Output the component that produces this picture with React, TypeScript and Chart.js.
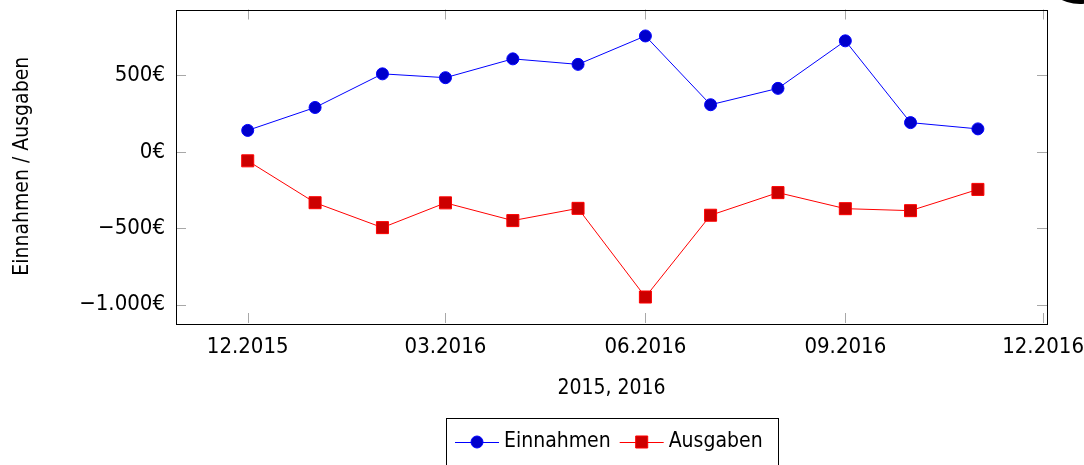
import React, { useEffect, useRef } from "react";
import { Chart, registerables } from "chart.js";

Chart.register(...registerables);

// ---- data ----
const months = [
  "2015-12", "2016-01", "2016-02", "2016-03", "2016-04", "2016-05",
  "2016-06", "2016-07", "2016-08", "2016-09", "2016-10", "2016-11",
];
const einnahmen = [140, 290, 510, 485, 608, 572, 758, 308, 415, 726, 191, 150];
const ausgaben = [-59, -333, -496, -334, -450, -370, -950, -415, -267, -372, -385, -246];
const seriesLabels = ["Einnahmen", "Ausgaben"];
const xTickMonths = ["2015-12", "2016-03", "2016-06", "2016-09", "2016-12"];
const yTickValues = [-1000, -500, 0, 500];
const xTitle = "2015, 2016";
const yTitle = "Einnahmen / Ausgaben";

const FONT = "'Liberation Sans Narrow', 'DejaVu Sans Condensed', 'Liberation Sans', sans-serif";
const FS_TICK = 22;
const FS_TEXT = 21;

const dayOf = (m: string) => {
  const [y, mo] = m.split("-").map(Number);
  return Date.UTC(y, mo - 1, 1) / 86400000;
};
const fmtMonth = (d: number) => {
  const dt = new Date(Math.round(d) * 86400000);
  return String(dt.getUTCMonth() + 1).padStart(2, "0") + "." + dt.getUTCFullYear();
};
const fmtEuro = (v: number) =>
  (v < 0 ? "\u2212" : "") + String(Math.abs(v)).replace(/\B(?=(\d{3})+(?!\d))/g, ".") + "€";

const BLUE_LINE = "#0000ff";
const BLUE_FILL = "#0000cc";
const RED_LINE = "#ff0000";
const RED_FILL = "#cc0000";

const decor = {
  id: "decor",
  beforeDatasetsDraw(chart: any) {
    const { ctx, chartArea: a, scales } = chart;
    ctx.save();
    ctx.strokeStyle = "#a8a8a8";
    ctx.lineWidth = 1;
    const L = 10;
    ctx.beginPath();
    for (const t of scales.x.ticks) {
      const px = Math.round(scales.x.getPixelForValue(t.value)) + 0.5;
      ctx.moveTo(px, a.bottom);
      ctx.lineTo(px, a.bottom - L);
      ctx.moveTo(px, a.top);
      ctx.lineTo(px, a.top + L);
    }
    for (const t of scales.y.ticks) {
      const py = Math.round(scales.y.getPixelForValue(t.value)) + 0.5;
      ctx.moveTo(a.left, py);
      ctx.lineTo(a.left + L, py);
      ctx.moveTo(a.right, py);
      ctx.lineTo(a.right - L, py);
    }
    ctx.stroke();
    ctx.restore();
  },
  afterDraw(chart: any) {
    const { ctx, chartArea: a } = chart;
    ctx.save();
    // frame
    ctx.strokeStyle = "#000";
    ctx.lineWidth = 1;
    ctx.strokeRect(Math.round(a.left) + 0.5, Math.round(a.top) + 0.5,
      Math.round(a.right - a.left), Math.round(a.bottom - a.top));

    ctx.fillStyle = "#000";
    ctx.font = `${FS_TEXT}px ${FONT}`;
    ctx.textAlign = "center";
    ctx.textBaseline = "middle";
    // x title
    const cx = (a.left + a.right) / 2;
    ctx.fillText(xTitle, cx, 389);
    // y title
    ctx.save();
    ctx.translate(23, (a.top + a.bottom) / 2);
    ctx.rotate(-Math.PI / 2);
    ctx.fillText(yTitle, 0, 0);
    ctx.restore();

    // legend
    const ds = chart.data.datasets;
    const lineLen = 44;
    const padL = 9, gapLT = 5, gapEntries = 9, padR = 15;
    const widths = ds.map((d: any) => ctx.measureText(d.label).width);
    let total = padL + padR;
    ds.forEach((_: any, i: number) => {
      total += lineLen + gapLT + widths[i] + (i < ds.length - 1 ? gapEntries : 0);
    });
    const bx = Math.round(cx - total / 2);
    const by = 418;
    ctx.strokeStyle = "#000";
    ctx.strokeRect(bx + 0.5, by + 0.5, Math.round(total), 60);
    const ly = 442;
    let x = bx + padL;
    ds.forEach((d: any, i: number) => {
      ctx.strokeStyle = d.borderColor;
      ctx.lineWidth = 1;
      ctx.beginPath();
      ctx.moveTo(x, ly + 0.5);
      ctx.lineTo(x + lineLen, ly + 0.5);
      ctx.stroke();
      const mx = x + lineLen / 2;
      ctx.fillStyle = d.pointBackgroundColor;
      ctx.strokeStyle = d.pointBorderColor;
      ctx.beginPath();
      if (d.pointStyle === "rect") {
        const s = d.pointRadius * Math.SQRT1_2;
        ctx.rect(mx - s, ly - s, 2 * s, 2 * s);
      } else {
        ctx.arc(mx, ly, d.pointRadius, 0, Math.PI * 2);
      }
      ctx.fill();
      ctx.stroke();
      ctx.fillStyle = "#000";
      ctx.textAlign = "left";
      ctx.fillText(d.label, x + lineLen + gapLT, ly);
      x += lineLen + gapLT + widths[i] + gapEntries;
    });

    // partial dark shape at the top-right corner
    ctx.fillStyle = "#000";
    ctx.beginPath();
    ctx.ellipse(1080, -22, 34, 26, 0, 0, Math.PI * 2);
    ctx.fill();
    ctx.restore();
  },
};

export default function App() {
  const ref = useRef<HTMLCanvasElement | null>(null);
  useEffect(() => {
    document.body.style.margin = "0";
    const canvas = ref.current!;
    const xs = months.map(dayOf);
    const chart = new Chart(canvas, {
      type: "line",
      data: {
        datasets: [
          {
            label: seriesLabels[0],
            data: xs.map((x, i) => ({ x, y: einnahmen[i] })),
            borderColor: BLUE_LINE,
            borderWidth: 1,
            pointStyle: "circle",
            pointRadius: 6,
            pointBorderWidth: 1,
            pointBackgroundColor: BLUE_FILL,
            pointBorderColor: BLUE_LINE,
            tension: 0,
          },
          {
            label: seriesLabels[1],
            data: xs.map((x, i) => ({ x, y: ausgaben[i] })),
            borderColor: RED_LINE,
            borderWidth: 1,
            pointStyle: "rect",
            pointRadius: 8.5,
            pointBorderWidth: 1,
            pointBackgroundColor: RED_FILL,
            pointBorderColor: RED_LINE,
            tension: 0,
          },
        ] as any,
      },
      options: {
        animation: false,
        responsive: false,
        maintainAspectRatio: false,
        layout: { padding: { left: 0, right: 37, top: 8, bottom: 0 } },
        plugins: { legend: { display: false }, tooltip: { enabled: false } },
        scales: {
          x: {
            type: "linear",
            min: dayOf(xTickMonths[0]) - 33,
            max: dayOf(xTickMonths[xTickMonths.length - 1]) + 1.8,
            afterBuildTicks: (s: any) => {
              s.ticks = xTickMonths.map((m) => ({ value: dayOf(m) }));
            },
            ticks: {
              callback: (v: any) => fmtMonth(Number(v)),
              font: { family: FONT, size: FS_TICK },
              color: "#000",
              padding: 11,
              maxRotation: 0,
              autoSkip: false,
            },
            grid: { display: false, drawTicks: false },
            border: { display: false },
            afterFit: (s: any) => {
              s.height = 142;
              s.paddingLeft = 0;
              s.paddingRight = 0;
            },
          },
          y: {
            type: "linear",
            min: -1120,
            max: 931,
            afterBuildTicks: (s: any) => {
              s.ticks = yTickValues.map((v) => ({ value: v }));
            },
            ticks: {
              callback: (v: any) => fmtEuro(Number(v)),
              font: { family: FONT, size: FS_TICK },
              color: "#000",
              padding: 11,
              autoSkip: false,
            },
            grid: { display: false, drawTicks: false },
            border: { display: false },
            afterFit: (s: any) => {
              s.width = 176;
              s.paddingTop = 0;
              s.paddingBottom = 0;
            },
          },
        },
      } as any,
      plugins: [decor],
    });
    return () => chart.destroy();
  }, []);
  return (
    <div style={{ position: "fixed", left: 0, top: 0, width: 1084, height: 465, background: "#fff" }}>
      <canvas ref={ref} width={1084} height={465} style={{ width: 1084, height: 465, display: "block" }} />
    </div>
  );
}
